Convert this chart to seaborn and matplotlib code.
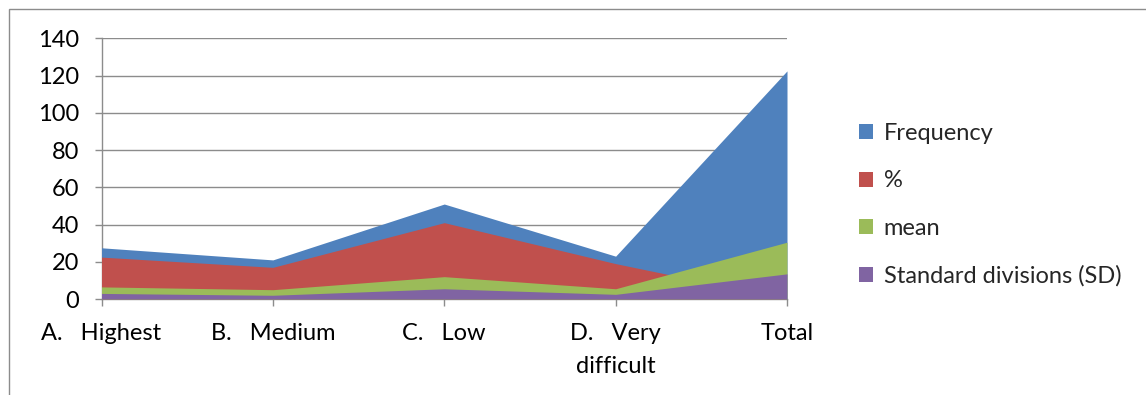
import matplotlib
matplotlib.use("Agg")
import matplotlib.pyplot as plt
from matplotlib.patches import Patch, Rectangle
import seaborn as sns
import pandas as pd

categories = ["A.   Highest", "B.   Medium", "C.   Low", "D.   Very\ndifficult", "Total"]
frequency = [27.5, 21, 51, 23, 122.5]
percent = [22.5, 17, 41, 19, 0]
mean = [6.5, 5, 12, 5.5, 30.5]
sd = [3, 2, 5.5, 2.5, 13.5]

series_names = ["Frequency", "%", "mean", "Standard divisions (SD)"]
series_colors = ["#4F81BD", "#C0504D", "#9BBB59", "#8064A2"]

df = pd.DataFrame({
    "category": categories,
    "Frequency": frequency,
    "%": percent,
    "mean": mean,
    "Standard divisions (SD)": sd,
})

sns.set_theme(style="white")
plt.rcParams["font.family"] = ["Lato", "DejaVu Sans"]

W, H = 1146, 395
fig = plt.figure(figsize=(W / 100, H / 100), dpi=100)
fig.patch.set_facecolor("white")

# outer chart frame
fig.add_artist(Rectangle((9 / W, -0.1), 1.2, 1 - 9 / H + 0.1, transform=fig.transFigure,
                         fill=False, edgecolor="#8c8c8c", linewidth=1.0))

left, right, top, bottom = 101.5, 787, 38.3, 299
ax = fig.add_axes([left / W, 1 - bottom / H, (right - left) / W, (bottom - top) / H])

x = list(range(len(categories)))
# overlapping (non-stacked) areas, back to front
for name, color in zip(series_names, series_colors):
    ax.fill_between(x, 0, df[name], color=color, linewidth=0, zorder=3)

ax.set_xlim(0, len(categories) - 1)
ax.set_ylim(0, 140)
ax.set_yticks(range(0, 141, 20))
ax.set_xticks(x)
ax.set_xticklabels(categories, linespacing=1.75)

ax.yaxis.grid(True, color="#8c8c8c", linewidth=1.0)
ax.xaxis.grid(False)
ax.set_axisbelow(True)

for s in ["top", "right"]:
    ax.spines[s].set_visible(False)
for s in ["left", "bottom"]:
    ax.spines[s].set_color("#8c8c8c")
    ax.spines[s].set_linewidth(1.0)

ax.tick_params(axis="y", which="major", left=True, length=5, width=1.0, color="#8c8c8c",
               pad=11, labelsize=17, labelcolor="black")
ax.tick_params(axis="x", which="major", bottom=True, length=5, width=1.0, color="#8c8c8c",
               pad=12, labelsize=17, labelcolor="black")
ax.set_xlabel("")
ax.set_ylabel("")

handles = [Patch(facecolor=c, edgecolor="none") for c in series_colors]
fig.legend(handles, series_names, loc="upper left", bbox_to_anchor=(859 / W, 1 - 123 / H),
           frameon=False, fontsize=17, handlelength=0.6, handleheight=0.6,
           handletextpad=0.45, labelspacing=1.12, borderpad=0, borderaxespad=0)

fig.savefig("out.png", dpi=100, facecolor="white")
